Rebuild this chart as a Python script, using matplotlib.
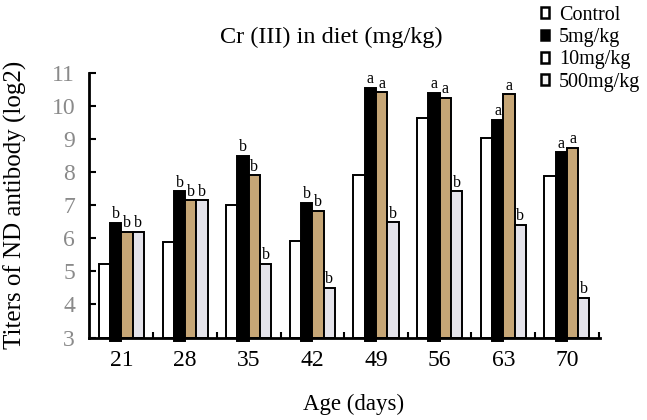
import matplotlib
matplotlib.use("Agg")
import matplotlib.pyplot as plt
from matplotlib.patches import Patch
import numpy as np

plt.rcParams['font.family'] = ['Liberation Serif', 'DejaVu Serif']

ages = ["21", "28", "35", "42", "49", "56", "63", "70"]
series_names = ["Control", "5mg/kg", "10mg/kg", "500mg/kg"]
control = [5.23, 5.90, 7.00, 5.92, 7.91, 9.64, 9.04, 7.87]
mg5 = [6.46, 7.42, 8.50, 7.07, 10.55, 10.40, 9.59, 8.60]
mg10 = [6.20, 7.15, 7.90, 6.83, 10.42, 10.25, 10.35, 8.73]
mg500 = [6.20, 7.15, 5.23, 4.50, 6.48, 7.42, 6.41, 4.19]
letters_5mg = ["b", "b", "b", "b", "a", "a", "a", "a"]
letters_10mg = ["b", "b", "b", "b", "a", "a", "a", "a"]
letters_500mg = ["b", "b", "b", "b", "b", "b", "b", "b"]
yticks = [3, 4, 5, 6, 7, 8, 9, 10, 11]

fig = plt.figure(figsize=(6.47, 4.2), dpi=100)
ax = fig.add_axes([89 / 647, 1 - 337.5 / 420, 511 / 647, 264.5 / 420])

x = np.arange(len(ages))
w = 0.177
data = [control, mg5, mg10, mg500]
colors = ["white", "black", "#c6a676", "#e4e3ea"]
letters = [None, letters_5mg, letters_10mg, letters_500mg]
for i, (vals, c) in enumerate(zip(data, colors)):
    pos = x + (i - 1.5) * w
    base = 2.9 if i == 1 else 3
    ax.bar(pos, np.array(vals) - base, bottom=base, width=w, color=c,
           edgecolor="black", linewidth=1.4, zorder=2, clip_on=(i != 1))
    if letters[i] is not None:
        for px, v, t in zip(pos, vals, letters[i]):
            ax.text(px, v + 0.02, t, ha="center", va="bottom", fontsize=11.5, color="black")

ax.set_ylim(3, 11)
ax.set_xlim(-0.51, 7.52)
ax.set_yticks(yticks)
ax.set_yticklabels([str(t) for t in yticks], fontsize=17, color="#8a8a8a")
ax.set_xticks(x)
ax.set_xticklabels(ages, fontsize=17)
ax.set_xticks(np.arange(len(ages)) + 0.5, minor=True)
ax.tick_params(axis="x", which="major", length=0, pad=9)
ax.tick_params(axis="x", which="minor", direction="in", length=4, width=1.5)
ax.tick_params(axis="y", direction="in", length=5, width=1.5, pad=10)
for s in ["top", "right"]:
    ax.spines[s].set_visible(False)
for s in ["left", "bottom"]:
    ax.spines[s].set_linewidth(2)
    ax.spines[s].set_zorder(3)

ax.set_ylabel("Titers of ND antibody (log2)", fontsize=18)
ax.yaxis.set_label_coords(-0.121, 0.5)
ax.set_xlabel("Age (days)", fontsize=16.5)
ax.xaxis.set_label_coords(0.517, -0.212)
fig.text(331 / 647, 1 - 37 / 420, "Cr (III) in diet (mg/kg)", ha="center", va="center", fontsize=17.5)

handles = [Patch(facecolor=fc, edgecolor="black", linewidth=1.8)
           for fc in ["white", "black", "white", "#f2f2f2"]]
fig.legend(handles, series_names, loc="upper left",
           bbox_to_anchor=(541 / 647, 1 - 6 / 420), frameon=False,
           fontsize=14.5, handlelength=0.38, handleheight=0.45,
           handletextpad=0.5, labelspacing=0.16, borderpad=0, borderaxespad=0)

fig.savefig("out.png", dpi=100)
